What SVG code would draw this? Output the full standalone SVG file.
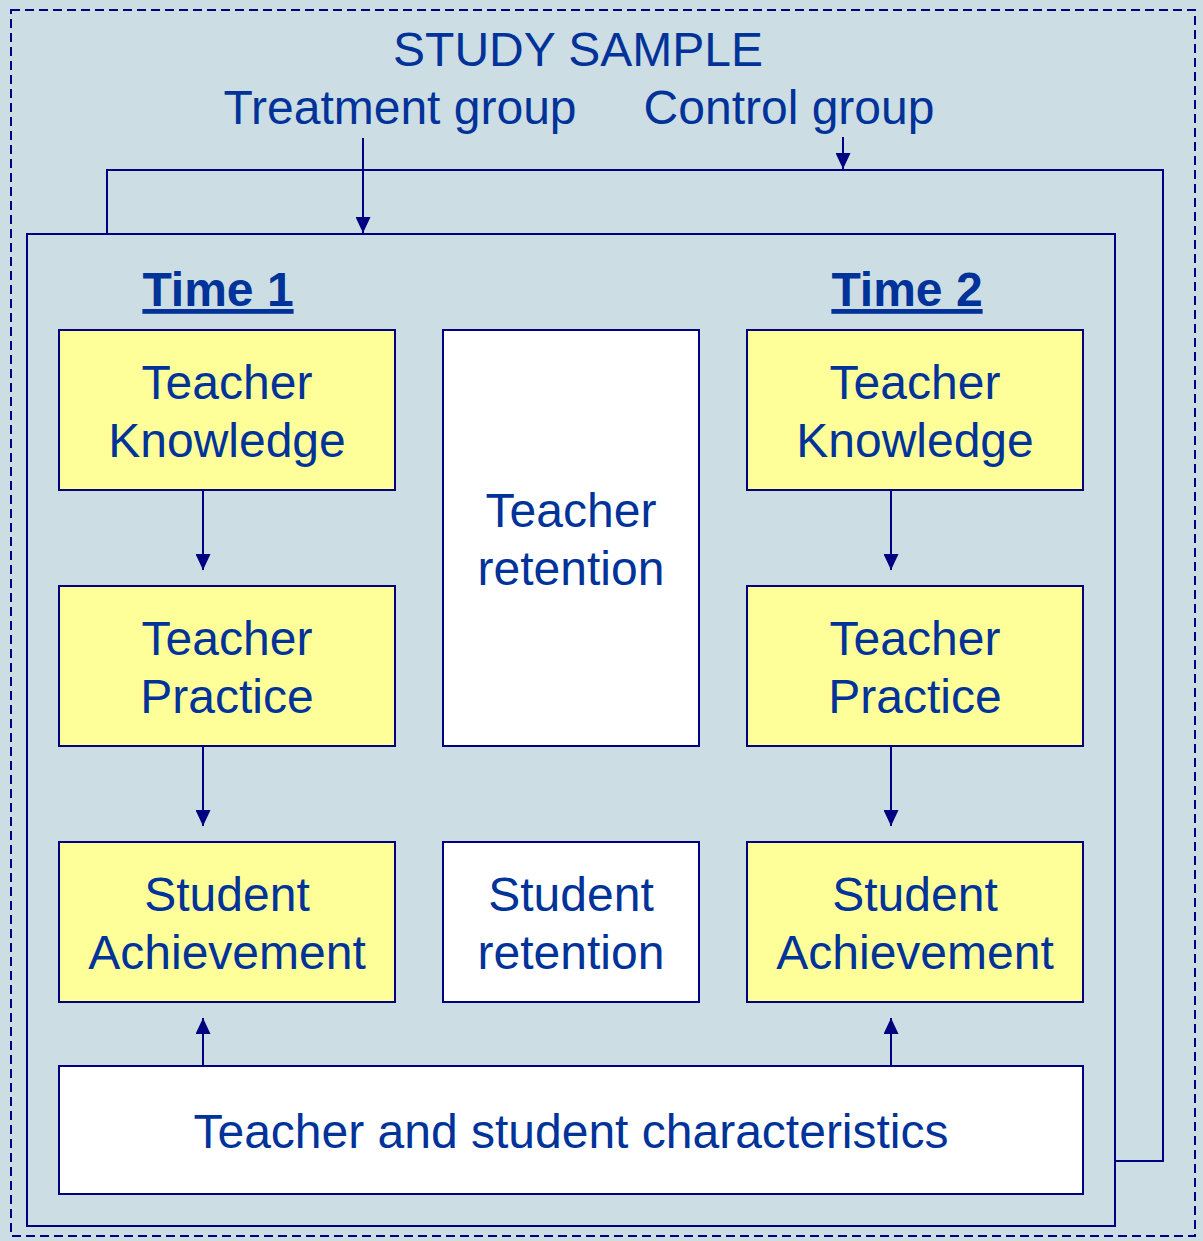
<svg xmlns="http://www.w3.org/2000/svg" width="1203" height="1241" viewBox="0 0 1203 1241">
<defs>
<style>
.t{font-family:"Liberation Sans",Arial,sans-serif;font-size:48px;fill:#003399;text-anchor:middle}
.b{font-weight:bold;text-decoration:underline}
.y{fill:#FFFF99;stroke:#000080;stroke-width:2}
.w{fill:#FFFFFF;stroke:#000080;stroke-width:2}
.c{fill:none;stroke:#000080;stroke-width:2}
</style>
<marker id="ah" markerWidth="16" markerHeight="15" refX="16" refY="7.5" orient="auto" markerUnits="userSpaceOnUse">
<path d="M0,0 L16,7.5 L0,15 Z" fill="#000080"/>
</marker>
</defs>
<rect x="0" y="0" width="1203" height="1241" fill="#CDDDE4"/>
<rect x="11" y="10" width="1184" height="1226" fill="none" stroke="#000080" stroke-width="2" stroke-dasharray="9,5"/>
<g id="titles">
<text class="t" x="578" y="66">STUDY SAMPLE</text>
<text class="t" x="400" y="124">Treatment group</text>
<text class="t" x="789" y="124">Control group</text>
</g>
<g id="frame">
<rect x="27" y="234" width="1088" height="992" class="c"/>
</g>
<g id="connectors">
<polyline class="c" points="107,234 107,170 1163,170 1163,1161 1115,1161"/>
<line class="c" x1="363" y1="138" x2="363" y2="233" marker-end="url(#ah)"/>
<line class="c" x1="843" y1="137" x2="843" y2="169" marker-end="url(#ah)"/>
<line class="c" x1="203" y1="490" x2="203" y2="570" marker-end="url(#ah)"/>
<line class="c" x1="203" y1="746" x2="203" y2="826" marker-end="url(#ah)"/>
<line class="c" x1="891" y1="490" x2="891" y2="570" marker-end="url(#ah)"/>
<line class="c" x1="891" y1="746" x2="891" y2="826" marker-end="url(#ah)"/>
<line class="c" x1="203" y1="1066" x2="203" y2="1018" marker-end="url(#ah)"/>
<line class="c" x1="891" y1="1066" x2="891" y2="1018" marker-end="url(#ah)"/>
</g>
<g id="time1"><text class="t b" x="218" y="306">Time 1</text></g>
<g id="time2"><text class="t b" x="907" y="306">Time 2</text></g>
<g id="tk1"><rect class="y" x="59" y="330" width="336" height="160"/><text class="t" x="227" y="399">Teacher</text><text class="t" x="227" y="457">Knowledge</text></g>
<g id="tp1"><rect class="y" x="59" y="586" width="336" height="160"/><text class="t" x="227" y="655">Teacher</text><text class="t" x="227" y="713">Practice</text></g>
<g id="sa1"><rect class="y" x="59" y="842" width="336" height="160"/><text class="t" x="227" y="911">Student</text><text class="t" x="227" y="969">Achievement</text></g>
<g id="tr"><rect class="w" x="443" y="330" width="256" height="416"/><text class="t" x="571" y="527">Teacher</text><text class="t" x="571" y="585">retention</text></g>
<g id="sr"><rect class="w" x="443" y="842" width="256" height="160"/><text class="t" x="571" y="911">Student</text><text class="t" x="571" y="969">retention</text></g>
<g id="tk2"><rect class="y" x="747" y="330" width="336" height="160"/><text class="t" x="915" y="399">Teacher</text><text class="t" x="915" y="457">Knowledge</text></g>
<g id="tp2"><rect class="y" x="747" y="586" width="336" height="160"/><text class="t" x="915" y="655">Teacher</text><text class="t" x="915" y="713">Practice</text></g>
<g id="sa2"><rect class="y" x="747" y="842" width="336" height="160"/><text class="t" x="915" y="911">Student</text><text class="t" x="915" y="969">Achievement</text></g>
<g id="chars"><rect class="w" x="59" y="1066" width="1024" height="128"/><text class="t" x="571" y="1148">Teacher and student characteristics</text></g>
</svg>
